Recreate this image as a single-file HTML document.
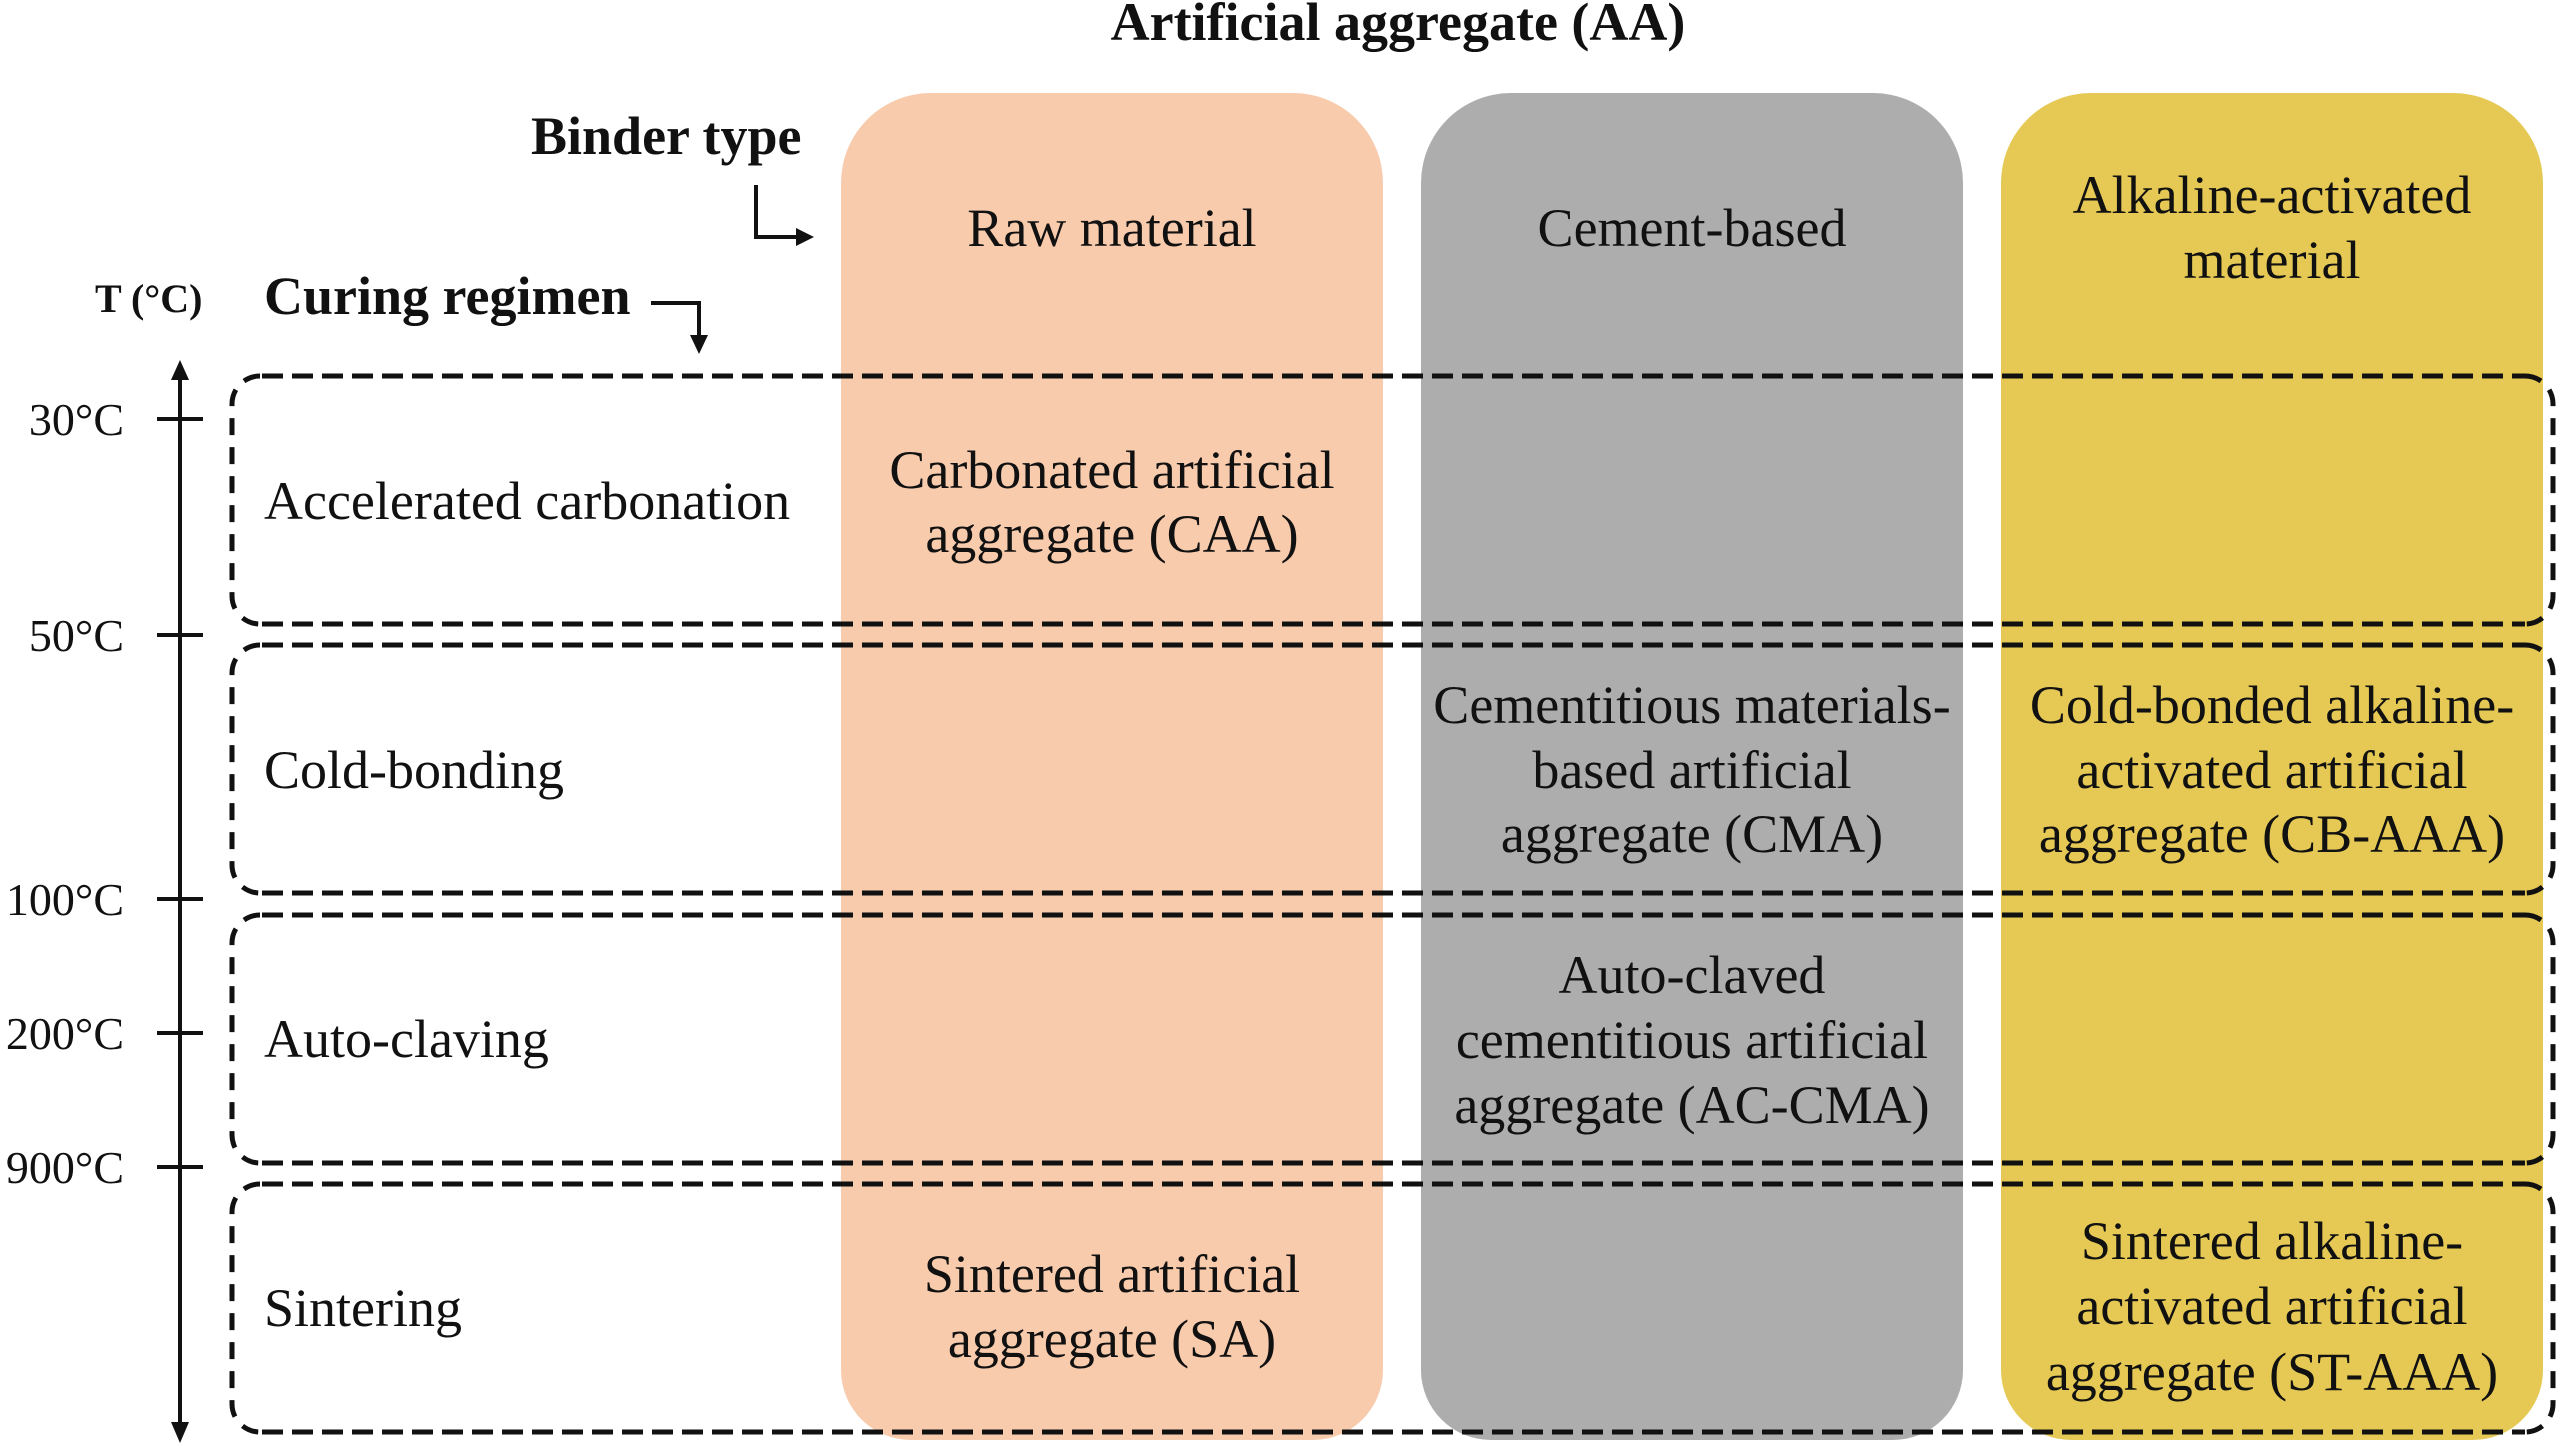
<!DOCTYPE html>
<html>
<head>
<meta charset="utf-8">
<style>
  html, body { margin:0; padding:0; background:#ffffff; }
  svg { display:block; }
  text { font-family: "Liberation Serif", "Times New Roman", serif; fill:#111; }
  .b { font-weight:bold; }
</style>
</head>
<body>
<svg width="2560" height="1446" viewBox="0 0 2560 1446" xmlns="http://www.w3.org/2000/svg">
  <rect x="0" y="0" width="2560" height="1446" fill="#ffffff"/>

  <!-- Columns -->
  <path d="M841 183 A90 90 0 0 1 931 93 L1293 93 A90 90 0 0 1 1383 183 L1383 1370 A70 70 0 0 1 1313 1440 L911 1440 A70 70 0 0 1 841 1370 Z" fill="#F8CBAD"/>
  <path d="M1421 183 A90 90 0 0 1 1511 93 L1873 93 A90 90 0 0 1 1963 183 L1963 1370 A70 70 0 0 1 1893 1440 L1491 1440 A70 70 0 0 1 1421 1370 Z" fill="#ADADAD"/>
  <path d="M2001 183 A90 90 0 0 1 2091 93 L2453 93 A90 90 0 0 1 2543 183 L2543 1370 A70 70 0 0 1 2473 1440 L2071 1440 A70 70 0 0 1 2001 1370 Z" fill="#E5C954"/>

  <!-- Title and headers -->
  <text class="b" x="1398" y="40" font-size="54" text-anchor="middle">Artificial aggregate (AA)</text>
  <text class="b" x="531" y="154" font-size="54">Binder type</text>
  <text class="b" x="264" y="314" font-size="54">Curing regimen</text>
  <text class="b" x="95" y="312" font-size="40">T (°C)</text>

  <!-- Binder arrow -->
  <polyline points="756,185 756,237 798,237" fill="none" stroke="#111" stroke-width="4"/>
  <polygon points="796,228 814,237 796,246" fill="#111"/>
  <!-- Curing arrow -->
  <polyline points="651,303 699,303 699,337" fill="none" stroke="#111" stroke-width="4"/>
  <polygon points="690,335 699,354 708,335" fill="#111"/>

  <!-- Column headers -->
  <text x="1112" y="246" font-size="54" text-anchor="middle">Raw material</text>
  <text x="1692" y="246" font-size="54" text-anchor="middle">Cement-based</text>
  <text x="2272" y="213" font-size="54" text-anchor="middle">Alkaline-activated</text>
  <text x="2272" y="278" font-size="54" text-anchor="middle">material</text>

  <!-- Axis -->
  <line x1="180" y1="376" x2="180" y2="1426" stroke="#111" stroke-width="4"/>
  <polygon points="171,380 180,360 189,380" fill="#111"/>
  <polygon points="171,1422 180,1443 189,1422" fill="#111"/>
  <g stroke="#111" stroke-width="4">
    <line x1="157" y1="419" x2="203" y2="419"/>
    <line x1="157" y1="635" x2="203" y2="635"/>
    <line x1="157" y1="899" x2="203" y2="899"/>
    <line x1="157" y1="1033" x2="203" y2="1033"/>
    <line x1="157" y1="1167" x2="203" y2="1167"/>
  </g>
  <g font-size="46" text-anchor="end">
    <text x="124" y="435">30°C</text>
    <text x="124" y="651">50°C</text>
    <text x="124" y="915">100°C</text>
    <text x="124" y="1049">200°C</text>
    <text x="124" y="1183">900°C</text>
  </g>

  <!-- Row labels -->
  <g font-size="54">
    <text x="264" y="519">Accelerated carbonation</text>
    <text x="264" y="788">Cold-bonding</text>
    <text x="264" y="1057">Auto-claving</text>
    <text x="264" y="1326">Sintering</text>
  </g>

  <!-- Cell texts -->
  <g font-size="54" text-anchor="middle">
    <text x="1112" y="488">Carbonated artificial</text>
    <text x="1112" y="552">aggregate (CAA)</text>

    <text x="1692" y="723">Cementitious materials-</text>
    <text x="1692" y="788">based artificial</text>
    <text x="1692" y="852">aggregate (CMA)</text>

    <text x="2272" y="723">Cold-bonded alkaline-</text>
    <text x="2272" y="788">activated artificial</text>
    <text x="2272" y="852">aggregate (CB-AAA)</text>

    <text x="1692" y="993">Auto-claved</text>
    <text x="1692" y="1058">cementitious artificial</text>
    <text x="1692" y="1123">aggregate (AC-CMA)</text>

    <text x="1112" y="1292">Sintered artificial</text>
    <text x="1112" y="1357">aggregate (SA)</text>

    <text x="2272" y="1259">Sintered alkaline-</text>
    <text x="2272" y="1324">activated artificial</text>
    <text x="2272" y="1390">aggregate (ST-AAA)</text>
  </g>

  <!-- Dashed boxes -->
  <g fill="none" stroke="#111" stroke-width="5">
    <g stroke-dasharray="21 9">
      <line x1="262" y1="376" x2="2525" y2="376"/>
      <line x1="262" y1="624" x2="2525" y2="624"/>
      <line x1="262" y1="645" x2="2525" y2="645"/>
      <line x1="262" y1="893" x2="2525" y2="893"/>
      <line x1="262" y1="915" x2="2525" y2="915"/>
      <line x1="262" y1="1163" x2="2525" y2="1163"/>
      <line x1="262" y1="1184" x2="2525" y2="1184"/>
      <line x1="262" y1="1432" x2="2525" y2="1432"/>
    </g>
    <g stroke-dasharray="17 12">
      <path d="M260 376 A28 28 0 0 0 232 404 L232 596 A28 28 0 0 0 260 624"/>
      <path d="M2525 376 A28 28 0 0 1 2553 404 L2553 596 A28 28 0 0 1 2525 624"/>
      <path d="M260 645 A28 28 0 0 0 232 673 L232 865 A28 28 0 0 0 260 893"/>
      <path d="M2525 645 A28 28 0 0 1 2553 673 L2553 865 A28 28 0 0 1 2525 893"/>
      <path d="M260 915 A28 28 0 0 0 232 943 L232 1135 A28 28 0 0 0 260 1163"/>
      <path d="M2525 915 A28 28 0 0 1 2553 943 L2553 1135 A28 28 0 0 1 2525 1163"/>
      <path d="M260 1184 A28 28 0 0 0 232 1212 L232 1404 A28 28 0 0 0 260 1432"/>
      <path d="M2525 1184 A28 28 0 0 1 2553 1212 L2553 1404 A28 28 0 0 1 2525 1432"/>
    </g>
  </g>
</svg>
</body>
</html>
